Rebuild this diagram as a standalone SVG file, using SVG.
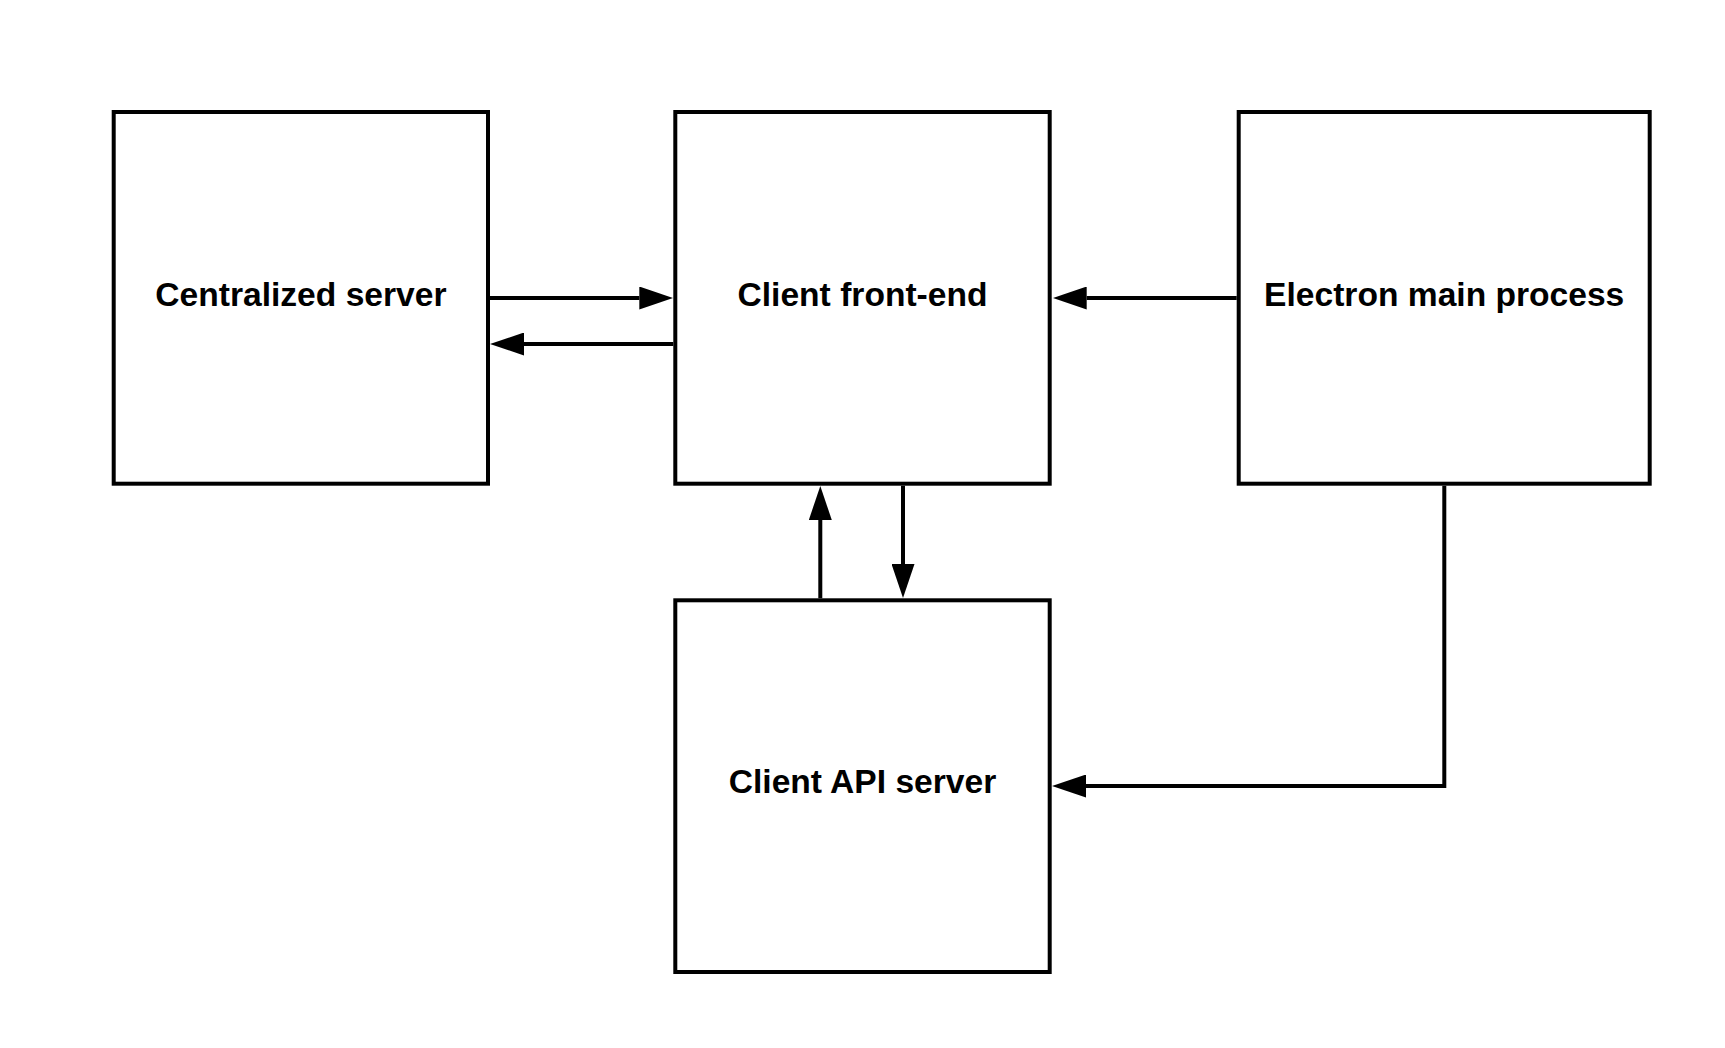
<svg xmlns="http://www.w3.org/2000/svg" width="1725" height="1048" viewBox="0 0 1725 1048">
<style>
.box{fill:#ffffff;stroke:#000000;stroke-width:4}
.lbl{font-family:"Liberation Sans",Arial,sans-serif;font-weight:bold;font-size:33.6px;fill:#000000;text-anchor:middle}
.conn{fill:none;stroke:#000000;stroke-width:4;marker-end:url(#ah)}
</style>
<defs>
<marker id="ah" markerUnits="userSpaceOnUse" markerWidth="34" markerHeight="23" viewBox="0 0 34 23" refX="0" refY="11.5" orient="auto">
<path d="M0,0 L34,11.5 L0,23 Z" fill="#000000"/>
</marker>
</defs>
<rect width="1725" height="1048" fill="#ffffff"/>
<g id="connectors">
<path class="conn" d="M490,298 H639.3"/>
<path class="conn" d="M673.3,344 H524"/>
<path class="conn" d="M1236.7,298 H1086.7"/>
<path class="conn" d="M820.3,598.3 V520"/>
<path class="conn" d="M903,485.7 V564"/>
<path class="conn" d="M1444.3,485.7 V786 H1086"/>
</g>
<g id="centralized-server">
<rect class="box" x="113.7" y="112" width="374.3" height="371.7"/>
<text class="lbl" x="300.9" y="305.7">Centralized server</text>
</g>
<g id="client-front-end">
<rect class="box" x="675.3" y="112" width="374.4" height="371.7"/>
<text class="lbl" x="862.5" y="305.7">Client front-end</text>
</g>
<g id="electron-main-process">
<rect class="box" x="1238.7" y="112" width="411" height="371.7"/>
<text class="lbl" x="1444.2" y="305.7">Electron main process</text>
</g>
<g id="client-api-server">
<rect class="box" x="675.3" y="600.3" width="374.4" height="371.7"/>
<text class="lbl" x="862.5" y="792.9">Client API server</text>
</g>
</svg>
